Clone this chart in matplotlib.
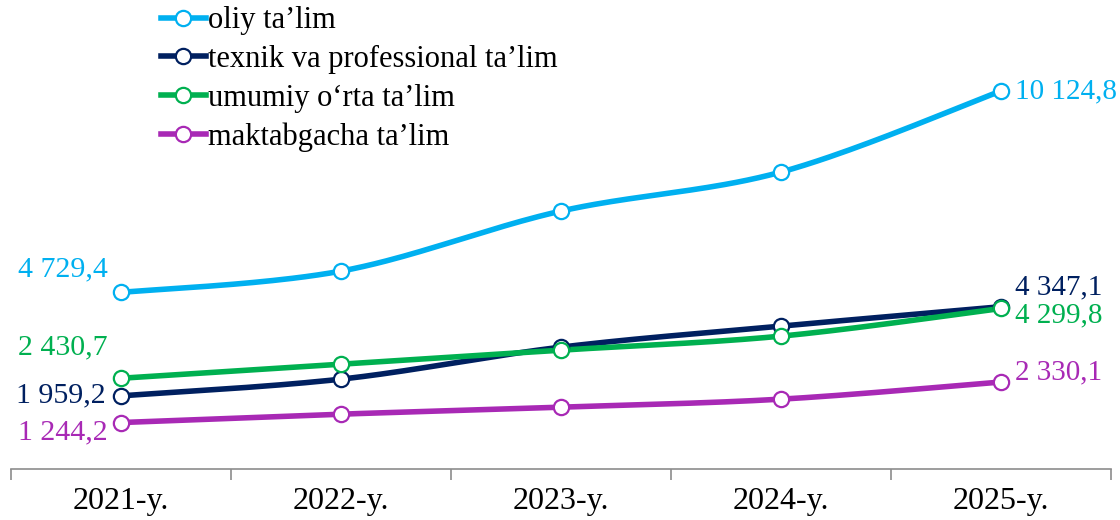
import numpy as np
import matplotlib
matplotlib.use("Agg")
import matplotlib.pyplot as plt
from matplotlib.ticker import FixedLocator

categories = ["2021-y.", "2022-y.", "2023-y.", "2024-y.", "2025-y."]
series_names = ["oliy ta’lim", "texnik va professional ta’lim",
                "umumiy o‘rta ta’lim", "maktabgacha ta’lim"]
oliy = [4729.4, 5301, 6909, 7954, 10124.8]
texnik = [1959.2, 2407, 3264, 3827, 4347.1]
umumiy = [2430.7, 2809, 3184, 3559, 4299.8]
maktab = [1244.2, 1469, 1656, 1871, 2330.1]

colors = ["#00B0F0", "#002060", "#00B050", "#A829B5"]
series = [oliy, texnik, umumiy, maktab]

plt.rcParams['font.family'] = ['Liberation Serif', 'DejaVu Serif']

def smooth(x, y, n=40):
    x = np.asarray(x, float); y = np.asarray(y, float)
    xs, ys = [], []
    N = len(x)
    for i in range(N - 1):
        p0 = (x[max(i-1, 0)], y[max(i-1, 0)])
        p1 = (x[i], y[i]); p2 = (x[i+1], y[i+1])
        p3 = (x[min(i+2, N-1)], y[min(i+2, N-1)])
        c1 = (p1[0] + (p2[0]-p0[0])/6, p1[1] + (p2[1]-p0[1])/6)
        c2 = (p2[0] - (p3[0]-p1[0])/6, p2[1] - (p3[1]-p1[1])/6)
        t = np.linspace(0, 1, n)
        bx = (1-t)**3*p1[0] + 3*(1-t)**2*t*c1[0] + 3*(1-t)*t**2*c2[0] + t**3*p2[0]
        by = (1-t)**3*p1[1] + 3*(1-t)**2*t*c1[1] + 3*(1-t)*t**2*c2[1] + t**3*p2[1]
        xs.extend(bx); ys.extend(by)
    return np.array(xs), np.array(ys)

def fmt(v):
    return f"{v:,.1f}".replace(",", " ").replace(".", ",")

fig = plt.figure(figsize=(11.2, 5.2), dpi=100)
ax = fig.add_axes([11/1120, 1-469/520, 1100/1120, 448/520])
x = np.arange(len(categories))

LW, MS, MEW = 4.0, 11, 1.6
handles = []
for name, vals, c in zip(series_names, series, colors):
    sx, sy = smooth(x, vals)
    ax.plot(sx, sy, color=c, lw=LW, solid_capstyle='round', zorder=2)
    ax.plot(x, vals, 'o', ms=MS, mfc='white', mec=c, mew=MEW, zorder=3)
    h, = ax.plot([], [], '-o', color=c, lw=LW, ms=MS, mfc='white', mec=c, mew=MEW)
    handles.append(h)

# data labels (first and last points)
left_off = [(-13, 23), (-15, 0), (-13, 31), (-13, -10)]
right_off = [(14, 0), (14, 19), (14, -7), (14, 10)]
for vals, c, lo, ro in zip(series, colors, left_off, right_off):
    ax.annotate(fmt(vals[0]), (x[0], vals[0]), xytext=lo, textcoords='offset pixels',
                ha='right', va='center', color=c, fontsize=21.5)
    ax.annotate(fmt(vals[-1]), (x[-1], vals[-1]), xytext=ro, textcoords='offset pixels',
                ha='left', va='center', color=c, fontsize=21)

ax.set_xlim(-0.5, len(categories) - 0.5)
ax.set_ylim(0, 12000)
ax.set_xticks(x)
ax.set_xticklabels(categories, fontsize=23)
ax.xaxis.set_minor_locator(FixedLocator(np.arange(-0.5, len(categories), 1.0)))
ax.tick_params(axis='x', which='major', length=0, pad=13)
ax.tick_params(axis='x', which='minor', length=8, color='#8C8C8C', width=1.2, direction='out')
ax.set_yticks([])
for s in ['top', 'right', 'left']:
    ax.spines[s].set_visible(False)
ax.spines['bottom'].set_color('#8C8C8C')
ax.spines['bottom'].set_linewidth(1.2)

leg = ax.legend(handles, series_names, loc='upper left', bbox_to_anchor=(138/1100, 1.06),
                frameon=False, fontsize=22, handlelength=1.45, handletextpad=0.08,
                labelspacing=0.32, borderaxespad=0)

fig.savefig("out.png", dpi=100)
